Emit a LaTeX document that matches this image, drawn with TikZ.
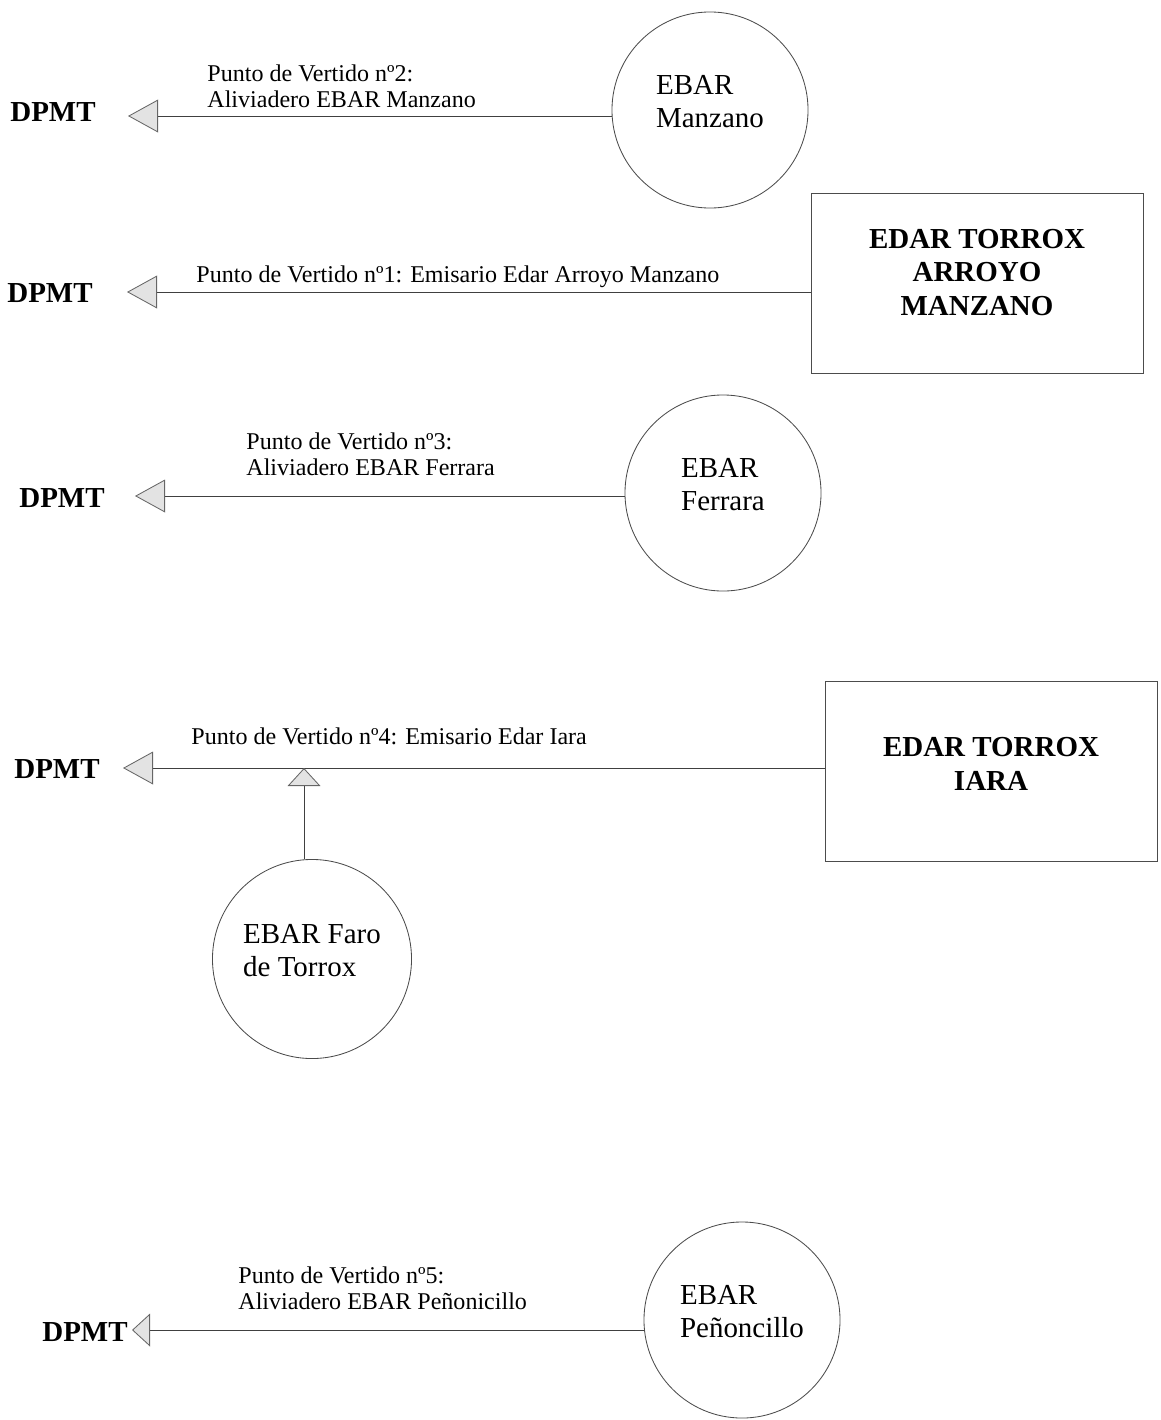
\documentclass[tikz,border=0pt]{standalone}
\usepackage{fontspec}
\setmainfont{Liberation Serif}
\usetikzlibrary{arrows.meta}

\begin{document}
\begin{tikzpicture}[
            x=0.025cm, y=-0.025cm,
            ->,
            >={Triangle[length=0.75cm, width=0.82cm, fill=gray!22, color=black!60]},
            line width=0.6pt,
            every edge/.style={draw, black!75},
            station/.style={circle, draw=black!70, minimum size=4.9cm, align=left,
                font=\fontsize{20.6}{23.8}\selectfont, text height=2cm, text depth=1.125cm},
            plant/.style={rectangle, draw=black!70, minimum width=8.3cm, minimum height=4.5cm,
                align=center, font=\bfseries\fontsize{20.6}{23.8}\selectfont},
            sink/.style={font=\bfseries\fontsize{20.6}{23.8}\selectfont},
            spill/.style={align=left, anchor=west, inner sep=0pt, font=\fontsize{17.1}{18.5}\selectfont},
            short/.style={-{Triangle[length=0.45cm, width=0.82cm, fill=gray!22, color=black!60]}}
        ]

        \useasboundingbox (0,0) rectangle (1160,1420);

        % Nodes
        \node[sink] (d1) at (53,112) {DPMT};
        \node[sink] (d2) at (50,293) {DPMT};
        \node[sink] (d3) at (62,498) {DPMT};
        \node[sink] (d4) at (57,769) {DPMT};
        \node[sink] (d5) at (85,1332) {DPMT};

        \node[station] (manzano) at (710,110) {EBAR\\Manzano};
        \node[plant, text height=2.5cm, text depth=0.925cm] (arroyo) at (977,283.5) {EDAR TORROX\\ARROYO\\MANZANO};
        \node[station] (ferrara) at (723,493) {EBAR\\Ferrara};
        \node[plant, text height=1.75cm, text depth=0.8cm] (iara) at (991,771) {EDAR TORROX\\IARA};
        \node[station] (faro) at (312,959) {EBAR Faro\\de Torrox};
        \node[station] (penon) at (742,1320) {EBAR\\Peñoncillo};

        \node[spill] (v2) at (207,86) {Punto de Vertido nº2:\\Aliviadero EBAR Manzano};
        \node[spill] (v1) at (196,277) {Punto de Vertido nº1: Emisario Edar Arroyo Manzano};
        \node[spill] (v3) at (246,454) {Punto de Vertido nº3:\\Aliviadero EBAR Ferrara};
        \node[spill] (v4) at (191,736) {Punto de Vertido nº4: Emisario Edar Iara};
        \node[spill] (v5) at (238,1288) {Punto de Vertido nº5:\\Aliviadero EBAR Peñonicillo};

        % arrow tips
        \coordinate (out1) at (128,116);
        \coordinate (out2) at (127,292);
        \coordinate (out3) at (135,496);
        \coordinate (out4) at (123,768);
        \coordinate (out5) at (132,1330);
        \coordinate (join) at (304,768);

        % Edges
        \path
        (manzano.west |- out1) edge (out1)
        (arroyo.west |- out2) edge (out2)
        (ferrara.west |- out3) edge (out3)
        (iara.west |- out4) edge (out4)
        (faro.north -| join) edge[short] (join)
        (penon.west |- out5) edge[short] (out5);

        \end{tikzpicture}
\end{document}
